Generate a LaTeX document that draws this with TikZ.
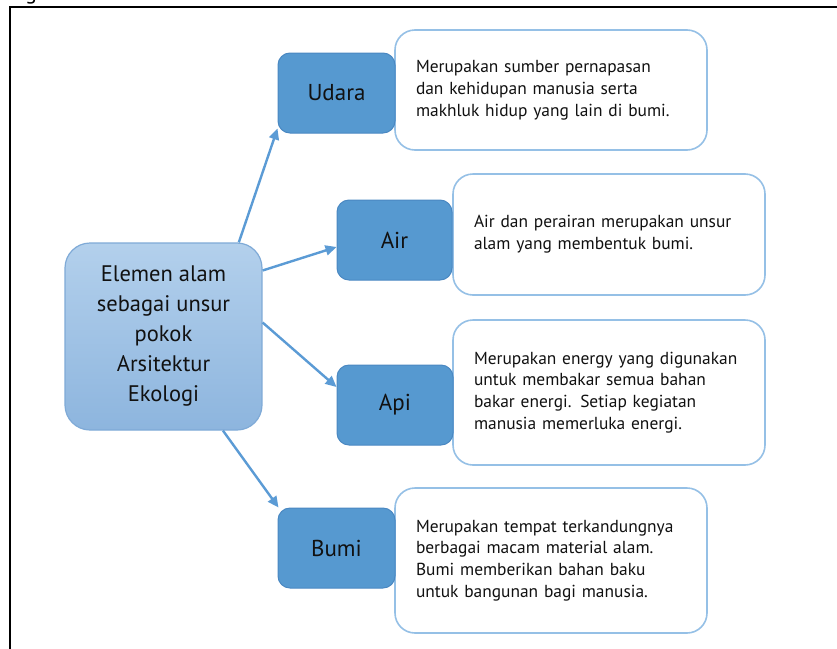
\documentclass[tikz,border=0pt]{standalone}
\usepackage{fontspec}
\setmainfont{PT Sans}
\usetikzlibrary{arrows.meta,calc}
\definecolor{elemfill}{HTML}{5699D0}
\definecolor{elemdraw}{HTML}{4A88C2}
\definecolor{maintop}{HTML}{B3D0EC}
\definecolor{mainbot}{HTML}{8DB5DE}
\definecolor{maindraw}{HTML}{7FAAD7}
\definecolor{descdraw}{HTML}{95C0E6}
\definecolor{arrowcol}{HTML}{5B9BD5}
\definecolor{txt}{HTML}{111111}
\tikzset{
  mainbox/.style={draw=maindraw, line width=1.2pt, top color=maintop, bottom color=mainbot,
    rounded corners=25pt, minimum width=197pt, minimum height=187pt, align=center,
    text=txt, font=\fontsize{22.5}{30}\selectfont, inner sep=0pt},
  elembox/.style={draw=elemdraw, line width=1pt, fill=elemfill, rounded corners=12pt,
    minimum width=116pt, minimum height=80pt, text=txt, font=\fontsize{23}{25}\selectfont, inner sep=0pt},
  descbox/.style={draw=descdraw, line width=1.6pt, fill=white, rounded corners=20pt,
    text width=270pt, inner xsep=21pt, inner ysep=0pt, minimum width=312pt, align=left,
    text=txt, font=\fontsize{17.4}{21.8}\selectfont},
  link/.style={draw=arrowcol, line width=2.4pt, -{Triangle[length=11pt,width=10pt]}},
}
\begin{document}
\begin{tikzpicture}[x=1pt,y=-1pt]
\useasboundingbox (0,0) rectangle (837,648);
\fill[white] (0,0) rectangle (837,648);
\node[anchor=base, font=\fontsize{22}{22}\selectfont] (gfrag) at (31,-1) {g};
\draw[line width=1.8pt] (845,7) -- (10,7) -- (10,656);
% description boxes
\node[descbox, minimum height=120pt] (udarad) at (551,90) {Merupakan sumber pernapasan\\dan kehidupan manusia serta\\makhluk hidup yang lain di bumi.};
\node[descbox, minimum height=121pt] (aird) at (609,234.5) {Air dan perairan merupakan unsur\\alam yang membentuk bumi.};
\node[descbox, minimum height=145pt] (apid) at (609,392.5) {Merupakan energy yang digunakan\\untuk membakar semua bahan\\bakar energi. Setiap kegiatan\\manusia memerluka energi.};
\node[descbox, minimum height=145pt] (bumid) at (551,560.5) {Merupakan tempat terkandungnya\\berbagai macam material alam.\\Bumi memberikan bahan baku\\untuk bangunan bagi manusia.};
% element boxes
\node[elembox, minimum width=117pt] (udara) at (336.5,93) {Udara};
\node[elembox, minimum width=115pt] (air) at (394.5,240) {Air};
\node[elembox] (api) at (395,405) {Api};
\node[elembox, minimum width=117pt] (bumi) at (336.5,548) {Bumi};
% main
\node[mainbox] (main) at (163.5,336.5) {Elemen alam\\sebagai unsur\\pokok\\Arsitektur\\Ekologi};
% arrows
\draw[link] ($(main.north west)!0.88!(main.north east)$) -- ([yshift=5pt]udara.south west);
\draw[link] ([yshift=66pt]main.east) -- ([yshift=-7pt]air.west);
\draw[link] ([yshift=14pt]main.east) -- ([yshift=18pt]api.west);
\draw[link] ($(main.south west)!0.8!(main.south east)$) -- ([xshift=1pt]bumi.north west);
\end{tikzpicture}
\end{document}
